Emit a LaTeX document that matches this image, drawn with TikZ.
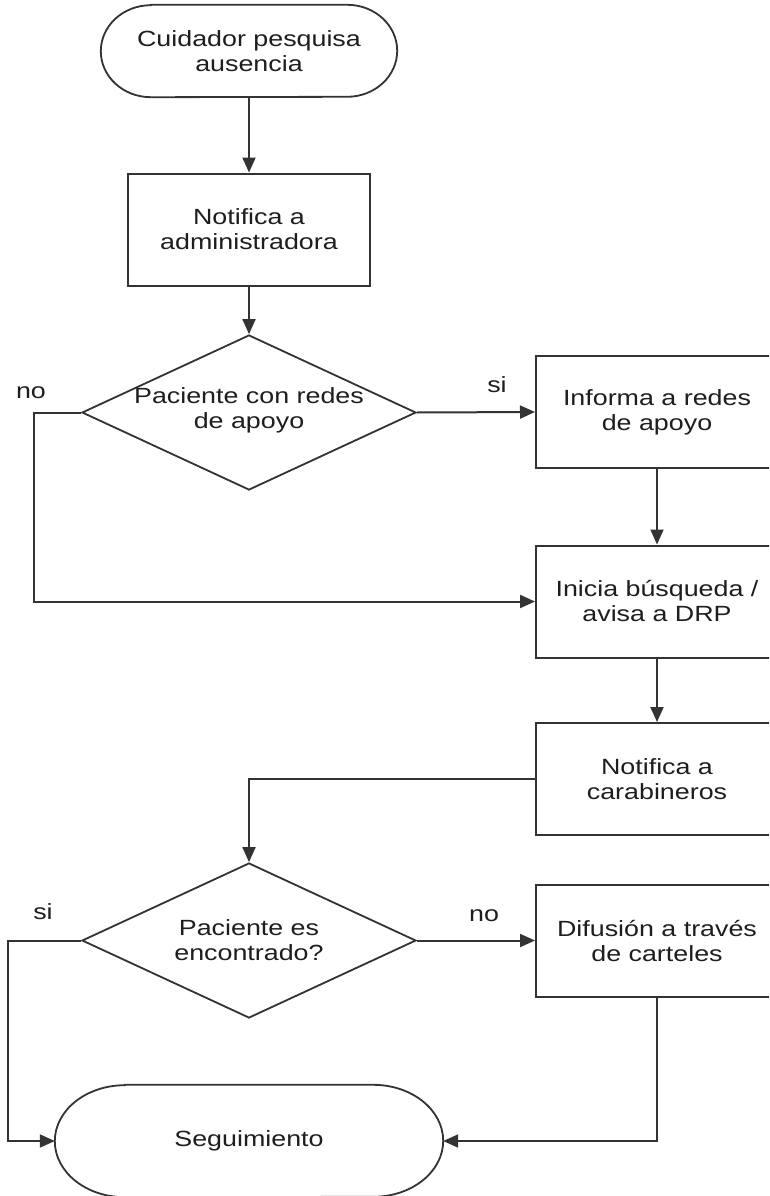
\documentclass[tikz,border=0pt]{standalone}
\usepackage{fontspec}
\setmainfont{Liberation Sans}[FakeStretch=1.22]
\usetikzlibrary{shapes.geometric,arrows.meta,calc}
\definecolor{ln}{HTML}{333333}
\definecolor{tx}{HTML}{1E1E1E}
\begin{document}
\begin{tikzpicture}[x=1pt,y=-1pt,
  every node/.style={font=\fontsize{22}{25}\selectfont, text=tx, align=center},
  proc/.style={draw=ln, line width=2pt, minimum width=242pt, minimum height=112pt, inner sep=0pt},
  decis/.style={draw=ln, line width=1.8pt, diamond, minimum width=334pt, minimum height=155pt, inner sep=0pt},
  term/.style={draw=none, inner sep=0pt},
  arr/.style={draw=ln, line width=2pt, -{Triangle[length=15pt,width=13pt]}},
  outline/.style={draw=ln, line width=1.8pt}
]
\useasboundingbox (0,0) rectangle (769,1196);
\clip (0,0) rectangle (769,1196);
\fill[white] (0,0) rectangle (769,1196);

% nodes
\node[term, minimum width=296pt, minimum height=92pt] (t1) at (249,51) {Cuidador pesquisa\\ausencia};
\draw[outline] ([xshift=50pt]t1.north west) -- ([xshift=-50pt]t1.north east)
  arc[start angle=90,end angle=-90,x radius=50pt,y radius=46pt]
  -- ([xshift=50pt]t1.south west)
  arc[start angle=270,end angle=90,x radius=50pt,y radius=46pt] -- cycle;

\node[proc] (b1) at (249,229.5) {Notifica a\\administradora};
\node[decis, label={[align=center,yshift=2pt]center:Paciente con redes\\de apoyo}] (d1) at (249,412.5) {};
\node[proc] (inf) at (657,412) {Informa a redes\\de apoyo};
\node[proc] (ini) at (657,601.5) {Inicia búsqueda /\\avisa a DRP};
\node[proc] (car) at (657,779) {Notifica a\\carabineros};
\node[decis, label={[align=center]center:Paciente es\\encontrado?}] (d2) at (249,940.5) {};
\node[proc] (dif) at (657,940.5) {Difusión a través\\de carteles};

\node[term, minimum width=388pt, minimum height=112pt] (t2) at (249,1141) {Seguimiento};
\draw[outline] ([xshift=70pt]t2.north west) -- ([xshift=-70pt]t2.north east)
  arc[start angle=90,end angle=-90,x radius=70pt,y radius=56pt]
  -- ([xshift=70pt]t2.south west)
  arc[start angle=270,end angle=90,x radius=70pt,y radius=56pt] -- cycle;

% labels
\node (no1) at (31,393) {no};
\node (si1) at (497,385) {si};
\node (si2) at (43,912) {si};
\node (no2) at (484,916) {no};

% connectors
\draw[arr] (t1.south) -- (b1.north);
\draw[arr] (b1.south) -- (d1.north);
\draw[arr] (d1.east) -- (inf.west);
\draw[arr] (inf.south) -- (ini.north);
\draw[arr] (d1.west) -- ++(-47,0) |- (ini.west);
\draw[arr] (ini.south) -- (car.north);
\draw[arr] (car.west) -| (d2.north);
\draw[arr] (d2.east) -- (dif.west);
\draw[arr] (d2.west) -- ++(-73,0) |- (t2.west);
\draw[arr] (dif.south) |- (t2.east);
\end{tikzpicture}
\end{document}
